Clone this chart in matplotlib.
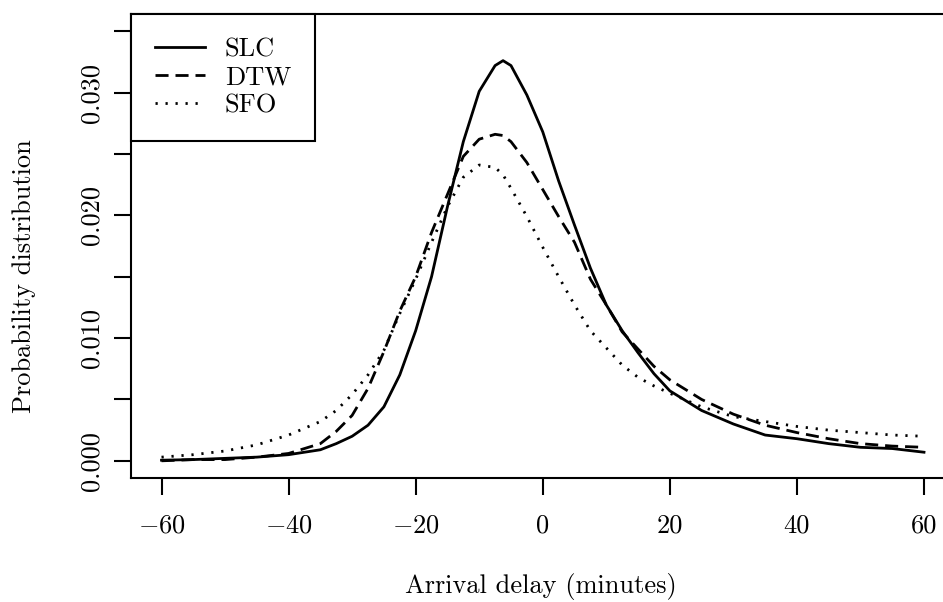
import numpy as np
import matplotlib
matplotlib.use("Agg")
import matplotlib.pyplot as plt

# Arrival delay grid (minutes) and density estimates
delay = [-60, -55, -50, -45, -40, -35, -32.5, -30, -27.5, -25, -22.5, -20,
         -17.5, -15, -12.5, -10, -7.5, -6.25, -5, -2.5, 0, 2.5, 5, 7.5, 10,
         12.5, 15, 17.5, 20, 25, 30, 35, 40, 45, 50, 55, 60]

slc = [0.00005, 0.0001, 0.0002, 0.0003, 0.0005, 0.0009, 0.0014, 0.0020,
       0.0029, 0.0044, 0.0070, 0.0106, 0.0150, 0.0207, 0.0260, 0.0301,
       0.0322, 0.0326, 0.0322, 0.0298, 0.0268, 0.0228, 0.0192, 0.0157,
       0.0127, 0.0106, 0.0088, 0.0071, 0.0057, 0.0041, 0.0030, 0.0021,
       0.0018, 0.0014, 0.0011, 0.0010, 0.0007]

dtw = [0.0000, 0.0001, 0.0001, 0.0003, 0.0006, 0.0014, 0.0024, 0.0037,
       0.0059, 0.0089, 0.0122, 0.0150, 0.0186, 0.0217, 0.0248, 0.0262,
       0.0266, 0.0265, 0.0260, 0.0243, 0.0221, 0.0199, 0.0178, 0.0148,
       0.0127, 0.0105, 0.0091, 0.0077, 0.0066, 0.0050, 0.0038, 0.0029,
       0.0023, 0.0018, 0.0014, 0.0012, 0.0011]

sfo = [0.0003, 0.0005, 0.0008, 0.0013, 0.0021, 0.0032, 0.0041, 0.0054,
       0.0070, 0.0090, 0.0120, 0.0148, 0.0178, 0.0207, 0.0231, 0.0241,
       0.0239, 0.0233, 0.0222, 0.0199, 0.0174, 0.0150, 0.0127, 0.0106,
       0.0092, 0.0078, 0.0068, 0.0061, 0.0055, 0.0044, 0.0036, 0.0032,
       0.0028, 0.0025, 0.0023, 0.0021, 0.0020]

series_names = ["SLC", "DTW", "SFO"]

xticks = [-60, -40, -20, 0, 20, 40, 60]
xtick_labels = ["$-$60", "$-$40", "$-$20", "0", "20", "40", "60"]
yticks = [0.000, 0.005, 0.010, 0.015, 0.020, 0.025, 0.030, 0.035]
ytick_labels = ["0.000", "", "0.010", "", "0.020", "", "0.030", ""]

plt.rcParams["font.family"] = ["cmr10", "DejaVu Serif"]
plt.rcParams["mathtext.fontset"] = "cm"
plt.rcParams["axes.unicode_minus"] = False

fs = 19

fig = plt.figure(figsize=(9.43, 6.02), dpi=100)
ax = fig.add_axes([131 / 943, 124 / 602, 823.5 / 943, 464 / 602])

lw = 2.0
ax.plot(delay, slc, color="black", lw=lw, linestyle="-", label=series_names[0])
ax.plot(delay, dtw, color="black", lw=lw, linestyle=(0, (4.7, 2.5)), label=series_names[1])
ax.plot(delay, sfo, color="black", lw=lw, linestyle=(0, (0.8, 2.8)), label=series_names[2])

ax.set_xlim(-64.8, 64.8)
ax.set_ylim(-0.0014, 0.0364)

ax.set_xticks(xticks)
ax.set_xticklabels(xtick_labels, fontsize=fs)
ax.set_yticks(yticks)
ax.set_yticklabels(ytick_labels, fontsize=fs, rotation=90, va="center")
ax.tick_params(axis="both", direction="out", length=12, width=1.5, color="black")
ax.tick_params(axis="x", pad=14)
ax.tick_params(axis="y", pad=8)

for sp in ax.spines.values():
    sp.set_linewidth(1.5)
    sp.set_color("black")

fig.text(541 / 943, 1 - 587 / 602, "Arrival delay (minutes)", ha="center", va="center", fontsize=fs)
fig.text(24 / 943, 1 - 276 / 602, "Probability distribution", ha="center", va="center",
         rotation=90, fontsize=fs)

leg = ax.legend(loc="upper left", bbox_to_anchor=(0, 1), borderaxespad=0,
                fontsize=fs, fancybox=False, framealpha=1, edgecolor="black",
                handlelength=1.9, handletextpad=0.76, labelspacing=0.16,
                borderpad=0.9)
leg.get_frame().set_linewidth(1.5)

fig.savefig("out.png", dpi=100)
